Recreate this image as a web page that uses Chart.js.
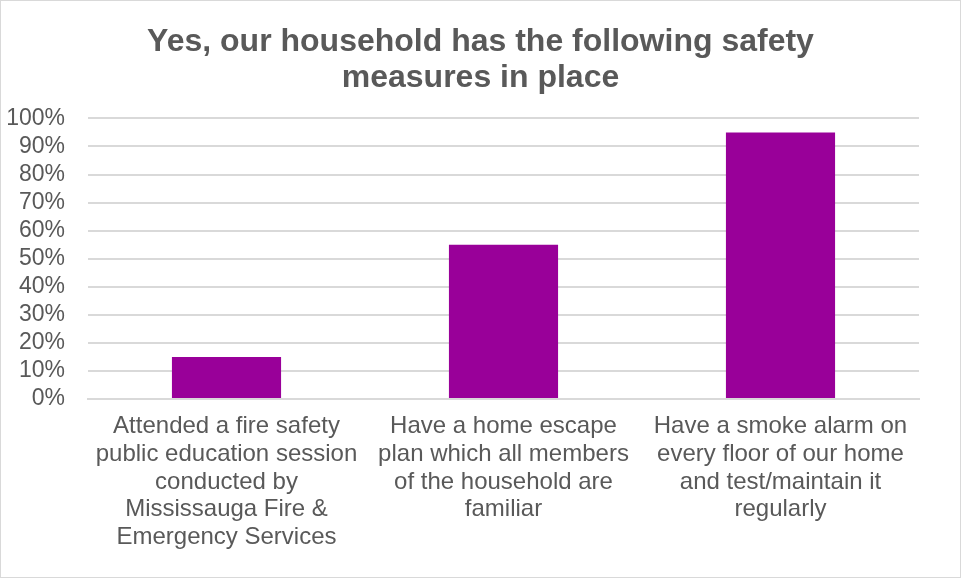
<!DOCTYPE html>
<html>
<head>
<meta charset="utf-8">
<script src="https://cdn.jsdelivr.net/npm/chart.js@4"></script>
<style>
    html, body { margin:0; padding:0; background:#fff; }
    #wrap {
        width:961px; height:578px;
        box-sizing:border-box;
        border:1px solid #d9d9d9;
        position:relative;
    }
</style>
</head>
<body>
<div id="wrap"><canvas id="safetyChart"></canvas></div>
<script>
// chart data
const categories = [
    ["Attended a fire safety", "public education session", "conducted by", "Mississauga Fire &", "Emergency Services"],
    ["Have a home escape", "plan which all members", "of the household are", "familiar"],
    ["Have a smoke alarm on", "every floor of our home", "and test/maintain it", "regularly"]
];
const yesValues = [15, 55, 95];
const titleLines = ["Yes, our household has the following safety", "measures in place"];
const yTicks = [0, 10, 20, 30, 40, 50, 60, 70, 80, 90, 100];

const textColor = "#595959";
const fontFamily = "Arial, 'Liberation Sans', sans-serif";

// centre the title over the whole canvas, not just the padded area
const titleFullWidth = {
    id: "titleFullWidth",
    afterLayout(chart) {
        const t = chart.titleBlock;
        if (t) {
            t.left = 0;
            t.right = chart.width;
            t.width = chart.width;
        }
    }
};

const safetyChart =
document.getElementById("safetyChart");

new Chart(safetyChart, {
    type: "bar",
    data: {
        labels: categories,
        datasets: [{
            label: "Yes",
            data: yesValues,
            backgroundColor: "#990099",
            borderWidth: 0,
            categoryPercentage: 1,
            barPercentage: 0.394
        }]
    },
    options: {
        responsive: true,
        maintainAspectRatio: false,
        animation: false,
        layout: {
            padding: { left: 6, right: 41, top: 0, bottom: 20 }
        },
        plugins: {
            legend: { display: false },
            tooltip: { enabled: false },
            title: {
                display: true,
                text: titleLines,
                color: textColor,
                font: { family: fontFamily, size: 32, weight: "bold", lineHeight: 1.1 },
                padding: { top: 24, bottom: 23 }
            }
        },
        scales: {
            x: {
                grid: { display: false },
                border: { display: true, color: "#d9d9d9", width: 2 },
                ticks: {
                    color: textColor,
                    font: { family: fontFamily, size: 24, lineHeight: 1.15 },
                    padding: 6,
                    maxRotation: 0,
                    autoSkip: false
                },
                afterFit: s => {
                    s.paddingLeft = 0;
                    s.paddingRight = 0;
                }
            },
            y: {
                min: 0,
                max: 100,
                afterBuildTicks: axis => {
                    axis.ticks = yTicks.map(v => ({ value: v }));
                },
                afterFit: s => {
                    s.width = 81;
                },
                grid: { color: "#d9d9d9", lineWidth: 2, drawTicks: false },
                border: { display: false },
                ticks: {
                    color: textColor,
                    font: { family: fontFamily, size: 23 },
                    padding: 23,
                    autoSkip: false,
                    callback: v => v + "%"
                }
            }
        }
    },
    plugins: [titleFullWidth]
});
</script>
</body>
</html>
